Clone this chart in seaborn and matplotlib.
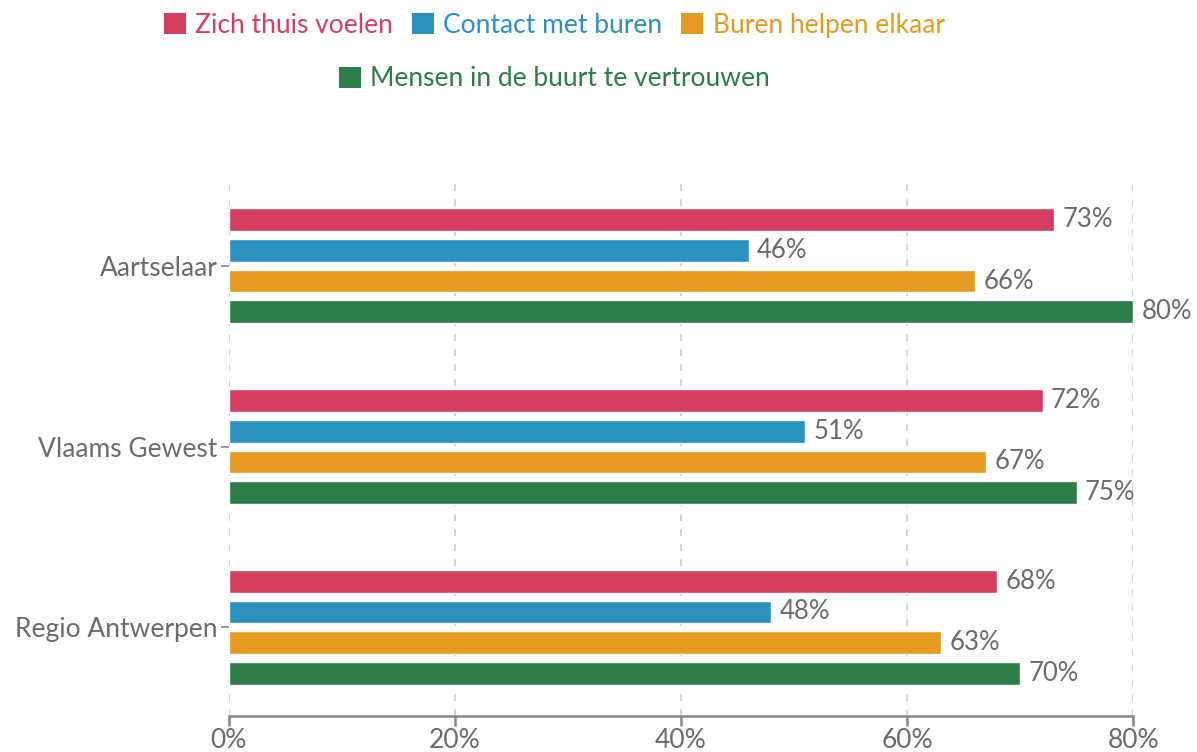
import numpy as np
import pandas as pd
import matplotlib.pyplot as plt
import seaborn as sns
from matplotlib.patches import Patch

# data
regions = ["Aartselaar", "Vlaams Gewest", "Regio Antwerpen"]
series = ["Zich thuis voelen", "Contact met buren", "Buren helpen elkaar",
          "Mensen in de buurt te vertrouwen"]
thuis = [73, 72, 68]
contact = [46, 51, 48]
helpen = [66, 67, 63]
vertrouwen = [80, 75, 70]
colors = ["#D63E5F", "#2B91BF", "#E69A20", "#2C7D48"]

df = pd.DataFrame({"regio": regions * 4,
                   "reeks": np.repeat(series, 3),
                   "waarde": thuis + contact + helpen + vertrouwen})

sns.set_style("white")
plt.rcParams["font.family"] = ["Lato", "DejaVu Sans"]
grey = "#6b6b6b"
fs = 19

fig = plt.figure(figsize=(11.97, 7.52), dpi=100)
ax = fig.add_axes([0.191, 0.048, 0.7556, 0.714])

sns.barplot(data=df, x="waarde", y="regio", hue="reeks", orient="h",
            palette=colors, width=0.68, gap=0.26, ax=ax, legend=False,
            saturation=1)

for cont in ax.containers:
    ax.bar_label(cont, fmt="%d%%", padding=6, fontsize=fs - 0.5, color=grey)

ax.set_xlim(0, 80)
ax.set_ylim(2.49, -0.48)
ax.set_xticks([0, 20, 40, 60, 80])
ax.set_xticklabels([f"{t}%" for t in [0, 20, 40, 60, 80]])
ax.xaxis.grid(True, linestyle=(0, (4, 5)), color="#cccccc", linewidth=1.2)
ax.set_axisbelow(True)
ax.set_xlabel("")
ax.set_ylabel("")
for s in ["top", "right", "left"]:
    ax.spines[s].set_visible(False)
ax.spines["bottom"].set_color("#888888")
ax.spines["bottom"].set_linewidth(1.8)
ax.tick_params(axis="x", bottom=True, labelcolor=grey, color="#888888",
               labelsize=fs, length=7, width=1.8, direction="out", pad=2)
ax.tick_params(axis="y", left=True, labelcolor=grey, color="#888888",
               labelsize=fs, length=6, width=1.2, pad=2)

handles = [Patch(facecolor=c, edgecolor="none") for c in colors]
fig.legend(handles[:3], series[:3], loc="center", ncol=3,
           bbox_to_anchor=(0.463, 0.966), frameon=False, fontsize=fs,
           labelcolor=colors[:3], handlelength=0.85, handleheight=0.85,
           handletextpad=0.35, columnspacing=0.7)
fig.legend(handles[3:], series[3:], loc="center", ncol=1,
           bbox_to_anchor=(0.463, 0.895), frameon=False, fontsize=fs,
           labelcolor=colors[3:], handlelength=0.85, handleheight=0.85,
           handletextpad=0.35)

fig.savefig("out.png", dpi=100)
